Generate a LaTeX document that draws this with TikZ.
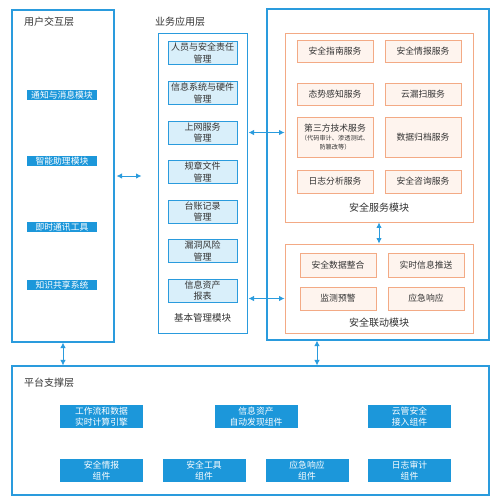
\documentclass[tikz,border=0pt]{standalone}
\usepackage{fontspec}
\setmainfont{Noto Sans CJK SC}
\usepackage{xcolor}
\usetikzlibrary{arrows.meta,positioning}
\definecolor{lineblue}{HTML}{2A9BDD}
\definecolor{tagblue}{HTML}{1C97DA}
\definecolor{paleblue}{HTML}{D9EFFA}
\definecolor{lineorange}{HTML}{F3AA85}
\definecolor{paleorange}{HTML}{FEF4EE}
\definecolor{txtgray}{HTML}{333333}

\begin{document}
\begin{tikzpicture}[
  x=1pt, y=-1pt,
  >={Latex[length=5.5pt,width=5.5pt]},
  every node/.style={font=\fontsize{8.8}{10}\selectfont, text=txtgray, inner sep=0pt},
  layer/.style={draw=lineblue, line width=1.1pt},
  title/.style={anchor=west, font=\fontsize{10}{12}\selectfont},
  tag/.style={fill=tagblue, text=white, minimum width=70, minimum height=10},
  mgmtbox/.style={draw=lineblue, fill=paleblue, minimum width=69, minimum height=23,
    align=center, font=\fontsize{9}{11.5}\selectfont},
  group/.style={draw=lineorange, line width=0.9pt, fill=white},
  svcbox/.style={draw=lineorange, line width=0.8pt, fill=paleorange, minimum width=76,
    minimum height=22, align=center},
  comp/.style={fill=tagblue, text=white, minimum width=83, minimum height=23,
    align=center, font=\fontsize{8.8}{11.5}\selectfont},
  link/.style={<->, draw=lineblue, line width=0.9pt},
]
\useasboundingbox (0,0) rectangle (500,504);

% User layer
\node[layer, minimum width=102, minimum height=332] (user) at (63,176) {};
\node[title] (usertitle) at (24,22) {用户交互层};
\node[tag] (u1) at (62,95) {通知与消息模块};
\node[tag] (u2) at (62,161) {智能助理模块};
\node[tag] (u3) at (62,227) {即时通讯工具};
\node[tag] (u4) at (62,285) {知识共享系统};

% Business layer
\node[title] (biztitle) at (155,22) {业务应用层};
\node[layer, line width=1pt, minimum width=89, minimum height=300] (mgmt) at (202.5,183) {};
\node[mgmtbox] (m1) at (202.5,53) {人员与安全责任\\管理};
\node[mgmtbox] (m2) at (202.5,93) {信息系统与硬件\\管理};
\node[mgmtbox] (m3) at (202.5,132.5) {上网服务\\管理};
\node[mgmtbox] (m4) at (202.5,172) {规章文件\\管理};
\node[mgmtbox] (m5) at (202.5,211.5) {台账记录\\管理};
\node[mgmtbox] (m6) at (202.5,251) {漏洞风险\\管理};
\node[mgmtbox] (m7) at (202.5,290.5) {信息资产\\报表};
\node[font=\fontsize{9.5}{11}\selectfont] (mgmtlabel) at (202.5,318) {基本管理模块};

% Security layer
\node[layer, minimum width=222, minimum height=331] (sec) at (378,174.5) {};
% service module
\node[group, minimum width=188, minimum height=189] (svcgrp) at (379,127.5) {};
\node[svcbox] (s1) at (335,51) {安全指南服务};
\node[svcbox] (s2) at (423,51) {安全情报服务};
\node[svcbox] (s3) at (335,94) {态势感知服务};
\node[svcbox] (s4) at (423,94) {云漏扫服务};
\node[svcbox, minimum height=40] (s5) at (335,137)
  {第三方技术服务\\[-1pt]{\fontsize{6.2}{7.5}\selectfont（代码审计、渗透测试、}\\[-1pt]{\fontsize{6.2}{7.5}\selectfont 防篡改等）}};
\node[svcbox, minimum height=40] (s6) at (423,137) {数据归档服务};
\node[svcbox, minimum height=23] (s7) at (335,181.5) {日志分析服务};
\node[svcbox, minimum height=23] (s8) at (423,181.5) {安全咨询服务};
\node[font=\fontsize{10}{12}\selectfont] (svclabel) at (379,208) {安全服务模块};
% linkage module
\node[group, minimum width=188, minimum height=89] (lkgrp) at (379,288.5) {};
\node[svcbox, minimum height=24] (k1) at (338,265) {安全数据整合};
\node[svcbox, minimum height=24] (k2) at (426,265) {实时信息推送};
\node[svcbox, minimum height=23] (k3) at (338,298.5) {监测预警};
\node[svcbox, minimum height=23] (k4) at (426,298.5) {应急响应};
\node[font=\fontsize{10}{12}\selectfont] (lklabel) at (379,323) {安全联动模块};

% Platform layer
\node[layer, minimum width=477, minimum height=129] (plat) at (250.5,430.5) {};
\node[title] (plattitle) at (24,383) {平台支撑层};
\node[comp] (p1) at (101.5,416.5) {工作流和数据\\实时计算引擎};
\node[comp] (p2) at (256,416.5) {信息资产\\自动发现组件};
\node[comp] (p3) at (409.5,416.5) {云管安全\\接入组件};
\node[comp] (p4) at (101.5,470.5) {安全情报\\组件};
\node[comp] (p5) at (204,470.5) {安全工具\\组件};
\node[comp] (p6) at (307,470.5) {应急响应\\组件};
\node[comp] (p7) at (409.5,470.5) {日志审计\\组件};

% Arrows
\draw[link, shorten <=2pt, shorten >=16pt] (user.east) -- (user.east -| mgmt.west);
\draw[link, shorten <=1pt] (m3.east -| mgmt.east) -- (m3.east -| svcgrp.west);
\draw[link, shorten <=1pt] (k3.west -| mgmt.east) -- (k3.west -| lkgrp.west);
\draw[link] (svcgrp.south) -- (lkgrp.north);
\draw[link] (user.south) -- (user.south |- plat.north);
\draw[link] ([xshift=-61pt]sec.south) -- ([xshift=-61pt]sec.south |- plat.north);
\end{tikzpicture}
\end{document}
